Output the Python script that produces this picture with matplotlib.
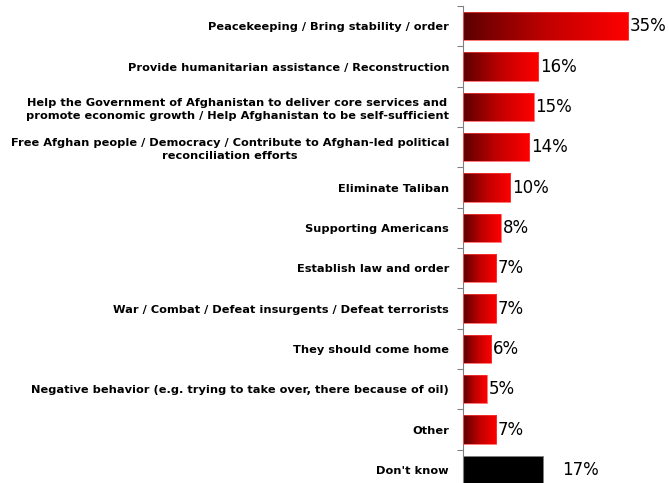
import numpy as np
import matplotlib.pyplot as plt
from matplotlib.colors import LinearSegmentedColormap
from matplotlib.patches import Rectangle

categories = [
    "Peacekeeping / Bring stability / order",
    "Provide humanitarian assistance / Reconstruction",
    "Help the Government of Afghanistan to deliver core services and\npromote economic growth / Help Afghanistan to be self-sufficient",
    "Free Afghan people / Democracy / Contribute to Afghan-led political\nreconciliation efforts",
    "Eliminate Taliban",
    "Supporting Americans",
    "Establish law and order",
    "War / Combat / Defeat insurgents / Defeat terrorists",
    "They should come home",
    "Negative behavior (e.g. trying to take over, there because of oil)",
    "Other",
    "Don't know",
]
values = [35, 16, 15, 14, 10, 8, 7, 7, 6, 5, 7, 17]

red_grad = LinearSegmentedColormap.from_list("redgrad", ["#5c0000", "#c00000", "#ff0000"])
grad = np.linspace(0, 1, 256).reshape(1, -1)

fig = plt.figure(figsize=(6.69, 4.83), dpi=100)
ax = fig.add_axes([0.692, -0.0145, 0.308, 1.002])

n = len(categories)
ypos = np.arange(n)
bar_h = 0.7

for i, (cat, v) in enumerate(zip(categories, values)):
    y0 = i - bar_h / 2
    if cat == "Don't know":
        ax.barh(i, v, height=bar_h, color="black", edgecolor="#808080", linewidth=0.6, zorder=2)
        ax.text(v + 4.0, i, f"{v}%", va="center", ha="left", fontsize=12, color="black")
    else:
        im = ax.imshow(grad, cmap=red_grad, aspect="auto",
                       extent=(0, v, i + bar_h / 2, y0), zorder=2)
        rect = Rectangle((0, y0), v, bar_h, facecolor="none", edgecolor="#ff4040",
                         linewidth=0.5, zorder=3)
        ax.add_patch(rect)
        im.set_clip_path(rect)
        ax.text(v + 0.4, i, f"{v}%", va="center", ha="left", fontsize=12, color="black")

ax.set_xlim(0, 43.7)
ax.set_ylim(n - 0.5, -0.5)

ax.set_yticks(ypos)
ax.set_yticklabels(categories, fontsize=8.2, fontweight="bold",
                   multialignment="center", linespacing=1.4)
ax.set_yticks(np.arange(n + 1) - 0.5, minor=True)
ax.tick_params(axis="y", which="major", length=0, pad=10)
ax.tick_params(axis="y", which="minor", length=4, direction="out", color="#808080", width=0.8)
ax.set_xticks([])

for side in ["top", "right", "bottom"]:
    ax.spines[side].set_visible(False)
ax.spines["left"].set_color("#808080")
ax.spines["left"].set_linewidth(0.8)

fig.savefig("out.png", dpi=100)
